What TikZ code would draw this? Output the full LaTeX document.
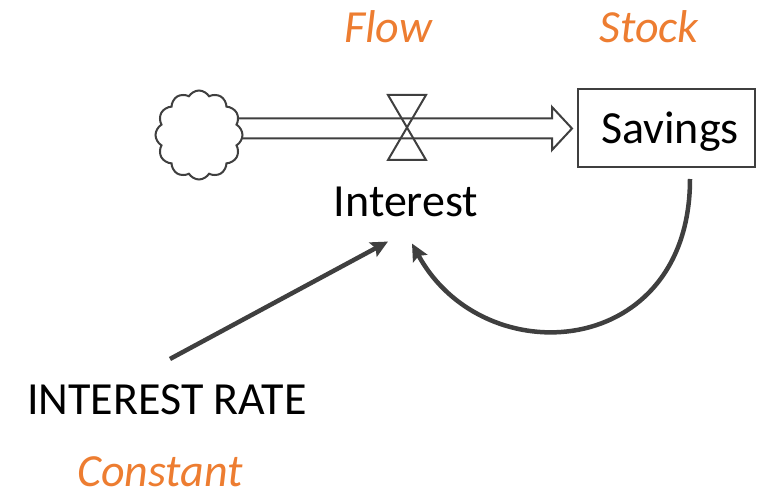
\documentclass[tikz,border=0pt]{standalone}
\usepackage{fontspec}
\setmainfont{Carlito}
\usetikzlibrary{shapes.symbols,arrows.meta,calc}
\definecolor{ln}{HTML}{3F3F3F}
\definecolor{orng}{HTML}{ED7D31}
\tikzset{
  lbl/.style={font=\fontsize{46}{50}\selectfont, anchor=base, inner sep=0pt},
  tag/.style={lbl, text=orng, font=\fontsize{46}{50}\selectfont\itshape},
  stockbox/.style={draw=ln, line width=2pt, minimum width=177pt, minimum height=78pt, inner sep=0pt},
  pipe/.style={draw=ln, line width=2pt, fill=white, line join=miter},
  link/.style={draw=ln, line width=4.5pt, -{Stealth[length=17pt,width=16pt,inset=3pt]}},
}
\begin{document}
\begin{tikzpicture}[x=1pt,y=-1pt]
\useasboundingbox (0,0) rectangle (761,492);
% stock
\node[stockbox] (savings) at (666.5,128) {};
\node[lbl] (savingstxt) at (670,144) {Savings};
% pipe
\coordinate (ps) at (238,128.5);
\coordinate (pe) at ($(savings.west)+(-5,0.5)$);
\draw[pipe] ($(ps)+(0,-10)$) -- ($(pe)+(-20,-10)$) -- ($(pe)+(-20,-21.5)$) -- (pe)
  -- ($(pe)+(-20,21.5)$) -- ($(pe)+(-20,10)$) -- ($(ps)+(0,10)$);
% cloud
\node[cloud, cloud puffs=12, cloud puff arc=120, aspect=1, draw=ln, line width=2pt, fill=white,
      minimum width=87pt, minimum height=89pt, inner sep=0pt] (cloud) at (199,135) {};
% valve
\coordinate (valve) at (407,127.5);
\draw[ln, line width=2pt, line join=miter] ($(valve)+(-19,-32.5)$) -- ($(valve)+(19,-32.5)$)
  -- ($(valve)+(-19,32.5)$) -- ($(valve)+(19,32.5)$) -- cycle;
% labels
\node[lbl] (interest) at (406,216) {Interest};
\node[lbl] (rate) at (167,414) {INTEREST RATE};
\node[tag] (flow) at (388,43) {Flow};
\node[tag] (stock) at (649,43) {Stock};
\node[tag] (constant) at (160,486) {Constant};
% links
\draw[link] ([xshift=3pt,yshift=25pt]rate.north) -- ([xshift=-18pt,yshift=-25pt]interest.south);
\draw[link] ([xshift=23.5pt,yshift=-11pt]savings.south) .. controls +(0,180) and +(72,132) .. ([xshift=6pt,yshift=-27pt]interest.south);
\end{tikzpicture}
\end{document}
